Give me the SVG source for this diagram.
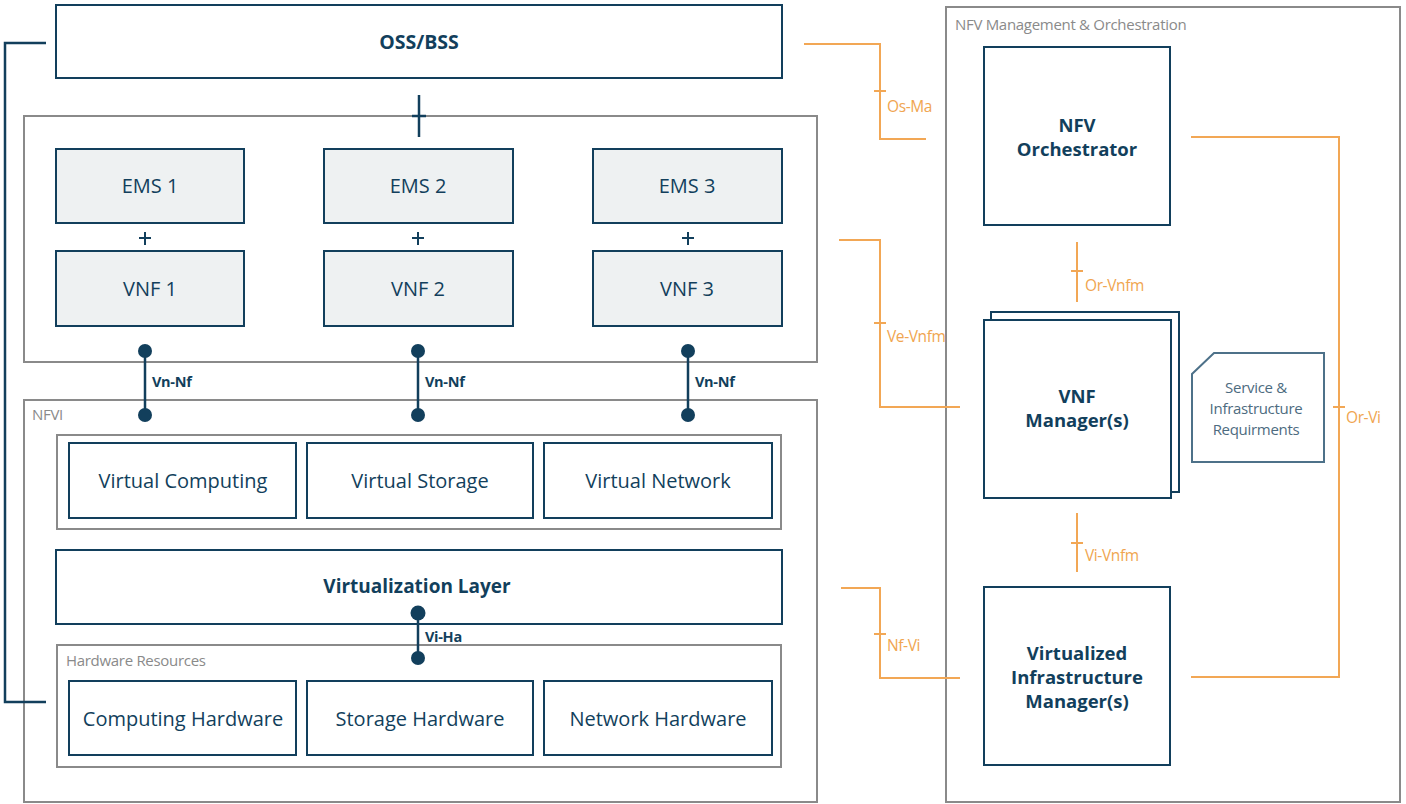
<svg xmlns="http://www.w3.org/2000/svg" width="1406" height="804" viewBox="0 0 1406 804">
<style>
.bg{fill:#ffffff}
.gray{fill:#ffffff;stroke:#8a8a8a;stroke-width:2}
.box{fill:#ffffff;stroke:#123f5c;stroke-width:2}
.ems{fill:#eef1f2;stroke:#123f5c;stroke-width:2}
.note{fill:#ffffff;stroke:#4d7189;stroke-width:2}
.t{font-family:"Open Sans","Noto Sans",sans-serif;fill:#123f5c;text-anchor:middle}
.reg{font-size:20px}
.bold{font-size:19px;font-weight:bold}
.ml{font-size:18.5px;font-weight:bold}
.grp{font-family:"Open Sans","Noto Sans",sans-serif;fill:#8a8a8a;font-size:15px;letter-spacing:-0.3px}
.lbl{font-family:"Open Sans","Noto Sans",sans-serif;fill:#123f5c;font-size:14.5px;font-weight:bold;letter-spacing:-0.3px}
.olbl{font-family:"Open Sans","Noto Sans",sans-serif;fill:#f0a550;font-size:15.5px;letter-spacing:-0.4px}
.req{font-family:"Open Sans","Noto Sans",sans-serif;fill:#4d6b80;font-size:15px;text-anchor:middle;letter-spacing:-0.3px}
.dk{fill:none;stroke:#123f5c;stroke-width:2.5}
.or{fill:none;stroke:#f2a755;stroke-width:2}
.dot{fill:#123f5c}
</style>
<rect class="bg" x="0" y="0" width="1406" height="804"/>

<g id="vnf-domain">
<rect class="gray" x="24" y="116" width="793" height="246"/>
</g>
<g id="nfvi">
<rect class="gray" x="24" y="400" width="793" height="402"/>
<text class="grp" x="32" y="420">NFVI</text>
</g>
<g id="mano">
<rect class="gray" x="946" y="7" width="454" height="795"/>
<text class="grp" x="955" y="30">NFV Management &amp; Orchestration</text>
</g>

<g id="oss-bss">
<rect class="box" x="56" y="5" width="726" height="73"/>
<text class="t bold" x="419" y="49" style="font-size:19.5px">OSS/BSS</text>
</g>

<g id="ems1"><rect class="ems" x="56" y="149" width="188" height="74"/><text class="t reg" x="150" y="193">EMS 1</text></g>
<g id="ems2"><rect class="ems" x="324" y="149" width="189" height="74"/><text class="t reg" x="418" y="193">EMS 2</text></g>
<g id="ems3"><rect class="ems" x="593" y="149" width="189" height="74"/><text class="t reg" x="687" y="193">EMS 3</text></g>
<g id="vnf1"><rect class="ems" x="56" y="251" width="188" height="75"/><text class="t reg" x="150" y="296">VNF 1</text></g>
<g id="vnf2"><rect class="ems" x="324" y="251" width="189" height="75"/><text class="t reg" x="418" y="296">VNF 2</text></g>
<g id="vnf3"><rect class="ems" x="593" y="251" width="189" height="75"/><text class="t reg" x="687" y="296">VNF 3</text></g>

<g id="virtual-resources">
<rect class="gray" x="57" y="435" width="724" height="94"/>
</g>
<g id="virtual-computing"><rect class="box" x="69" y="443" width="227" height="75"/><text class="t reg" x="183" y="488">Virtual Computing</text></g>
<g id="virtual-storage"><rect class="box" x="307" y="443" width="226" height="75"/><text class="t reg" x="420" y="488">Virtual Storage</text></g>
<g id="virtual-network"><rect class="box" x="544" y="443" width="228" height="75"/><text class="t reg" x="658" y="488">Virtual Network</text></g>

<g id="virtualization-layer">
<rect class="box" x="56" y="550" width="726" height="74"/>
<text class="t bold" x="417" y="593">Virtualization Layer</text>
</g>

<g id="hardware-resources">
<rect class="gray" x="57" y="645" width="724" height="122"/>
<text class="grp" x="66" y="666">Hardware Resources</text>
</g>
<g id="computing-hardware"><rect class="box" x="69" y="681" width="227" height="74"/><text class="t reg" x="183" y="726">Computing Hardware</text></g>
<g id="storage-hardware"><rect class="box" x="307" y="681" width="226" height="74"/><text class="t reg" x="420" y="726">Storage Hardware</text></g>
<g id="network-hardware"><rect class="box" x="544" y="681" width="228" height="74"/><text class="t reg" x="658" y="726">Network Hardware</text></g>

<g id="nfv-orchestrator">
<rect class="box" x="984" y="47" width="186" height="178"/>
<text class="t ml" x="1077" y="132">NFV</text>
<text class="t ml" x="1077" y="156">Orchestrator</text>
</g>
<g id="vnf-manager">
<rect class="box" x="991" y="312" width="188" height="180"/>
<rect class="box" x="984" y="320" width="187" height="178"/>
<text class="t ml" x="1077" y="403">VNF</text>
<text class="t ml" x="1077" y="427">Manager(s)</text>
</g>
<g id="requirements">
<path class="note" d="M1214,353 L1324,353 L1324,462 L1192,462 L1192,374 Z"/>
<text class="req" x="1256" y="393">Service &amp;</text>
<text class="req" x="1256" y="414">Infrastructure</text>
<text class="req" x="1256" y="435">Requirments</text>
</g>
<g id="vim">
<rect class="box" x="984" y="587" width="186" height="178"/>
<text class="t ml" x="1077" y="660">Virtualized</text>
<text class="t ml" x="1077" y="684">Infrastructure</text>
<text class="t ml" x="1077" y="708">Manager(s)</text>
</g>

<g id="connectors">
<polyline class="dk" points="46,43 5,43 5,702 46,702"/>
<line class="dk" x1="419" y1="95" x2="419" y2="137"/>
<line class="dk" x1="412" y1="116" x2="426" y2="116"/>
<g class="dk" style="stroke-width:2">
<line x1="145" y1="232" x2="145" y2="245"/><line x1="139" y1="238" x2="151" y2="238"/>
<line x1="418" y1="232" x2="418" y2="245"/><line x1="412" y1="238" x2="424" y2="238"/>
<line x1="688" y1="232" x2="688" y2="245"/><line x1="682" y1="238" x2="694" y2="238"/>
</g>
<line class="dk" x1="145" y1="351" x2="145" y2="415"/>
<line class="dk" x1="418" y1="351" x2="418" y2="415"/>
<line class="dk" x1="688" y1="351" x2="688" y2="415"/>
<line class="dk" x1="418" y1="612" x2="418" y2="658"/>
<text class="lbl" x="152" y="387">Vn-Nf</text>
<text class="lbl" x="425" y="387">Vn-Nf</text>
<text class="lbl" x="695" y="387">Vn-Nf</text>
<text class="lbl" x="425" y="642">Vi-Ha</text>

<polyline class="or" points="804,44 880,44 880,139 926,139"/>
<line class="or" x1="874" y1="91" x2="886" y2="91"/>
<text class="olbl" x="887" y="112">Os-Ma</text>

<polyline class="or" points="839,240 880,240 880,407 960,407"/>
<line class="or" x1="874" y1="323" x2="886" y2="323"/>
<text class="olbl" x="887" y="342">Ve-Vnfm</text>

<polyline class="or" points="841,588 880,588 880,678 960,678"/>
<line class="or" x1="874" y1="634" x2="886" y2="634"/>
<text class="olbl" x="887" y="651">Nf-Vi</text>

<line class="or" x1="1077" y1="242" x2="1077" y2="302"/>
<line class="or" x1="1071" y1="271" x2="1083" y2="271"/>
<text class="olbl" x="1085" y="291">Or-Vnfm</text>

<line class="or" x1="1077" y1="513" x2="1077" y2="572"/>
<line class="or" x1="1071" y1="543" x2="1083" y2="543"/>
<text class="olbl" x="1085" y="561">Vi-Vnfm</text>

<polyline class="or" points="1191,137 1339,137 1339,677 1191,677"/>
<line class="or" x1="1333" y1="407" x2="1345" y2="407"/>
<text class="olbl" x="1346" y="423">Or-Vi</text>

<circle class="dot" cx="145" cy="351" r="7"/><circle class="dot" cx="145" cy="415" r="7"/>
<circle class="dot" cx="418" cy="351" r="7"/><circle class="dot" cx="418" cy="415" r="7"/>
<circle class="dot" cx="688" cy="351" r="7"/><circle class="dot" cx="688" cy="415" r="7"/>
<circle class="dot" cx="418" cy="658" r="7"/>
<circle class="dot" cx="418" cy="613" r="7.5"/>
</g>
</svg>
